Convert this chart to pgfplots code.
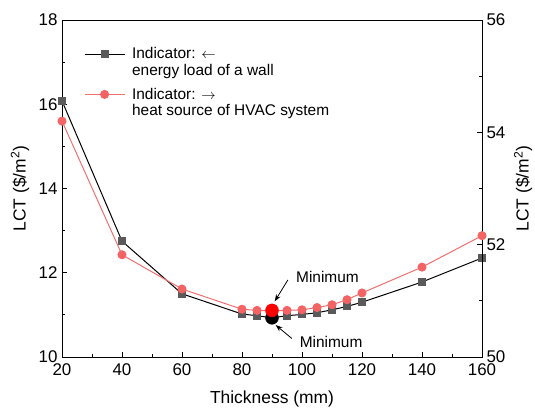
\documentclass[border=0pt]{standalone}
\usepackage{pgfplots}
\pgfplotsset{compat=1.18}
\usepackage{fontspec}
\setmainfont{Liberation Sans}
\usetikzlibrary{arrows.meta}

\definecolor{sqgray}{HTML}{5A5A5A}
\definecolor{lred}{HTML}{F07070}
\definecolor{mred}{HTML}{F46464}

% thickness (mm) vs. LCT, two indicators
\pgfplotstableread{
x    y
20   16.08
40   12.75
60   11.50
80   11.02
85   10.98
90   10.93
95   10.98
100  11.01
105  11.05
110  11.12
115  11.20
120  11.30
140  11.78
160  12.35
}\wallload
\pgfplotstableread{
x    y
20   54.20
40   51.82
60   51.21
80   50.85
85   50.83
90   50.82
95   50.83
100  50.84
105  50.88
110  50.93
115  51.02
120  51.14
140  51.60
160  52.16
}\hvacsource

\pgfplotsset{
  common/.style={
    scale only axis, width=420bp, height=337bp,
    xmin=20, xmax=160,
    tick align=inside,
    major tick length=5bp, minor tick length=3bp,
    tick style={black, line width=0.8bp},
    axis line style={line width=0.9bp},
    /pgf/number format/assume math mode=true,
    ticklabel style={font=\fontsize{17}{19}\selectfont},
    label style={font=\fontsize{17.5}{20}\selectfont},
  },
}

\begin{document}
\begin{tikzpicture}
\begin{axis}[common, name=main,
  ymin=10, ymax=18,
  xtick={20,40,...,160}, ytick={10,12,...,18},
  minor x tick num=1, minor y tick num=1,
  xtick pos=bottom, ytick pos=left,
  xticklabel style={yshift=-3bp},
  yticklabel style={xshift=-1bp},
  xlabel={Thickness (mm)},
  ylabel={LCT (\$/m\textsuperscript{2})},
  xlabel style={at={(axis description cs:0.5,-0.125)}, anchor=center},
  ylabel style={at={(axis description cs:-0.1,0.5)}, anchor=center},
  legend cell align=left,
  legend style={at={(0.045,0.93)}, anchor=north west, draw=none, fill=none,
    font=\fontsize{15.5}{16.5}\selectfont,
    cells={align=left}, row sep=7bp},
  legend image code/.code={%
    \draw[mark repeat=2, mark phase=2, yshift=8bp, #1]
      plot coordinates {(0bp,0bp) (20bp,0bp) (40bp,0bp)};
    \path (0bp,0bp) (45bp,0bp);},
]
\addplot[black, line width=1bp, mark=square*, mark size=3.5bp,
  mark options={fill=sqgray, draw=sqgray}] table[x=x, y=y] {\wallload};
\addlegendentry{Indicator: $\leftarrow$\\energy load of a wall}
\addlegendimage{lred, line width=1bp, mark=*, mark size=4bp,
  mark options={fill=mred, draw=mred}}
\addlegendentry{Indicator: $\rightarrow$\\heat source of HVAC system}

\addplot[only marks, mark=*, mark size=6.5bp, black] coordinates {(90,10.93)};

\draw[-{Stealth[length=7bp, width=5bp]}, line width=0.8bp]
  (axis cs:96.6,10.44) -- (axis cs:91.2,10.76);
\node[font=\fontsize{15.5}{18}\selectfont] at (axis cs:109.7,10.36) {Minimum};
\draw[-{Stealth[length=7bp, width=5bp]}, line width=0.8bp]
  (axis cs:95.3,11.83) -- (axis cs:90.9,11.32);
\node[font=\fontsize{15.5}{18}\selectfont] at (axis cs:108.5,11.9) {Minimum};
\end{axis}

\begin{axis}[common,
  ymin=50, ymax=56,
  axis x line=none, axis y line*=right,
  ytick={50,52,54,56}, minor y tick num=1,
  yticklabel style={xshift=1bp},
  ylabel={LCT (\$/m\textsuperscript{2})},
  ylabel style={at={(axis description cs:1.098,0.5)}, anchor=center},
]
\addplot[lred, line width=1bp, mark=*, mark size=4bp,
  mark options={fill=mred, draw=mred}] table[x=x, y=y] {\hvacsource};
\addplot[only marks, mark=*, mark size=6.5bp, red] coordinates {(90,50.83)};
\end{axis}

% page frame around the plot area
\pgfresetboundingbox
\path ([shift={(-62bp,-53bp)}]main.south west)
  rectangle ([shift={(53bp,20bp)}]main.north east);
\end{tikzpicture}
\end{document}
